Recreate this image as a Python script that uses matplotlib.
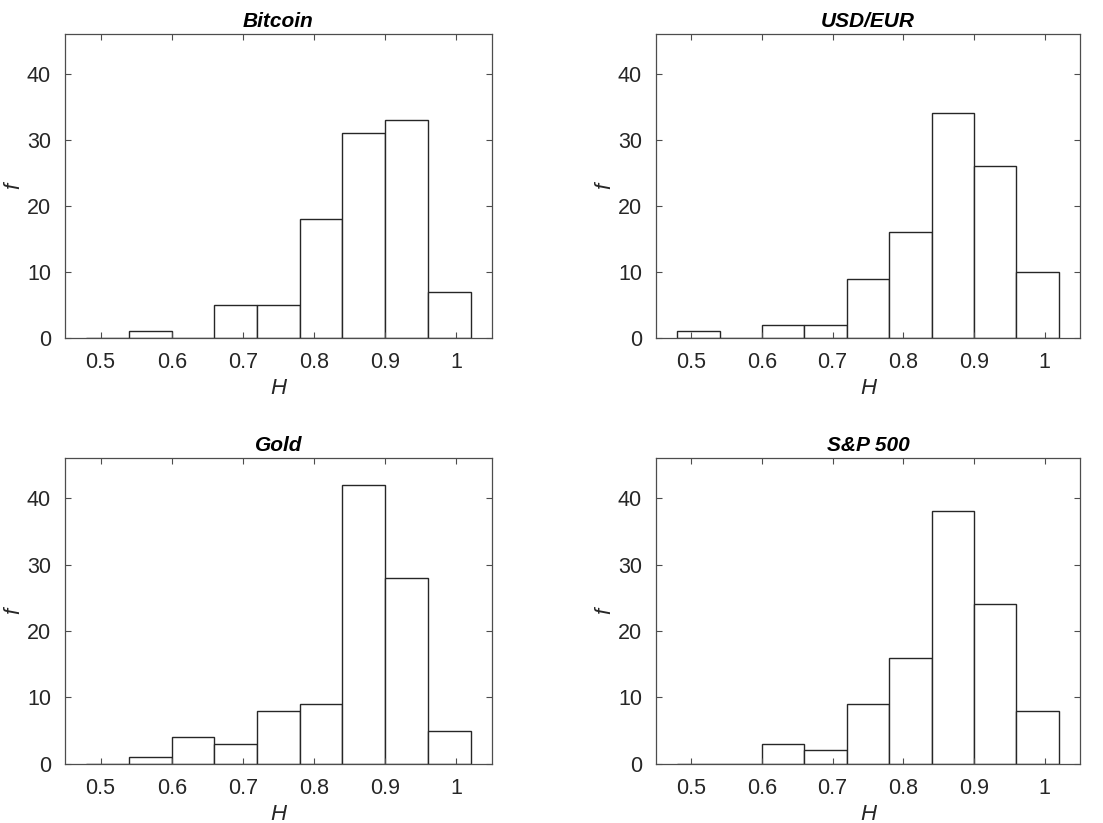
import numpy as np
import matplotlib
matplotlib.use("Agg")
import matplotlib.pyplot as plt

plt.rcParams['font.family'] = ['Liberation Sans', 'DejaVu Sans']

# bin edges of H (width 0.06) and counts per bin
edges = np.array([0.48, 0.54, 0.60, 0.66, 0.72, 0.78, 0.84, 0.90, 0.96, 1.02])
titles = ["Bitcoin", "USD/EUR", "Gold", "S&P 500"]
bitcoin = [0, 1, 0, 5, 5, 18, 31, 33, 7]
usd_eur = [1, 0, 2, 2, 9, 16, 34, 26, 10]
gold = [0, 1, 4, 3, 8, 9, 42, 28, 5]
sp500 = [0, 0, 3, 2, 9, 16, 38, 24, 8]
xticks = [0.5, 0.6, 0.7, 0.8, 0.9, 1.0]
xticklabels = ["0.5", "0.6", "0.7", "0.8", "0.9", "1"]
yticks = [0, 10, 20, 30, 40]

fig = plt.figure(figsize=(11.03, 8.23), dpi=100)
boxes = [
    [0.0589, 0.5893, 0.3871, 0.3694],
    [0.5947, 0.5893, 0.3844, 0.3694],
    [0.0589, 0.0720, 0.3871, 0.3711],
    [0.5947, 0.0720, 0.3844, 0.3711],
]
axis_col = '0.3'

for box, title, counts in zip(boxes, titles, [bitcoin, usd_eur, gold, sp500]):
    ax = fig.add_axes(box)
    ax.bar(edges[:-1], counts, width=np.diff(edges), align='edge',
           color='white', edgecolor='0.15', linewidth=1.0)
    ax.set_xlim(0.45, 1.05)
    ax.set_ylim(0, 46)
    ax.set_xticks(xticks)
    ax.set_xticklabels(xticklabels)
    ax.set_yticks(yticks)
    ax.tick_params(direction='in', top=True, right=True, length=4,
                   width=0.8, color=axis_col, labelcolor='0.15',
                   labelsize=15.5, pad=10)
    for s in ax.spines.values():
        s.set_color(axis_col)
        s.set_linewidth(0.9)
    ax.set_title(title, fontsize=15, fontweight='bold', fontstyle='italic', pad=5)
    ax.set_xlabel("H", fontsize=16, fontstyle='italic', color='0.15', labelpad=4)
    ax.set_ylabel("f", fontsize=16, fontstyle='italic', color='0.15')
    ax.yaxis.set_label_coords(-0.095, 0.5)

fig.savefig("out.png", dpi=100, facecolor='white')
